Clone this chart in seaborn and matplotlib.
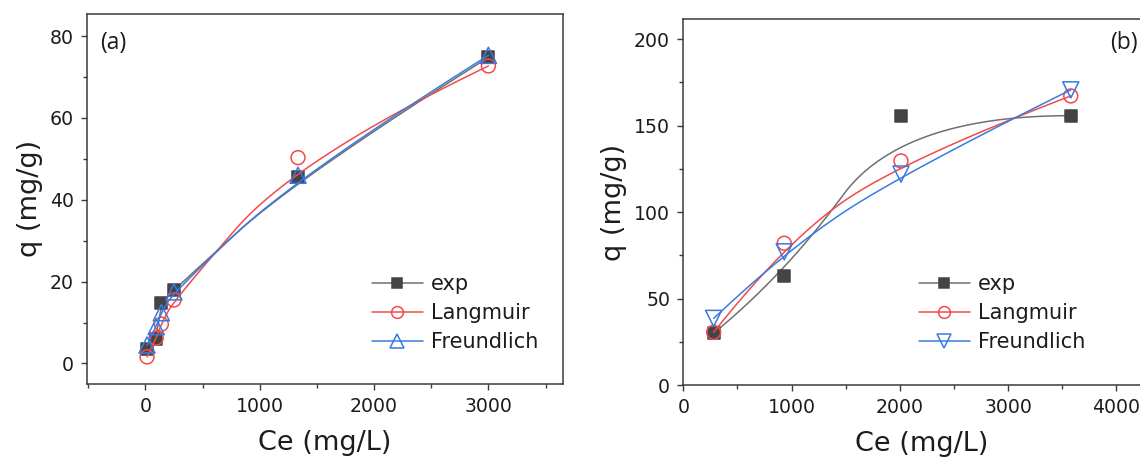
import numpy as np
import pandas as pd
import matplotlib
matplotlib.use("Agg")
import matplotlib.pyplot as plt
from matplotlib.lines import Line2D
from matplotlib.ticker import MultipleLocator
import seaborn as sns

# ---------------- data ----------------
ce_a = [15, 95, 140, 250, 1335, 3000]
exp_a = [3.5, 6.0, 14.8, 18.0, 45.5, 74.8]
lang_a = [1.6, 6.2, 9.6, 15.5, 50.3, 72.7]
freu_a = [4.5, 9.0, 12.4, 17.5, 46.0, 75.3]

ce_b = [280, 932, 2010, 3578]
exp_b = [30.0, 63.3, 155.8, 155.8]
lang_b = [30.5, 82.0, 129.6, 167.2]
freu_b = [38.5, 77.0, 122.0, 170.7]

series_names = ["exp", "Langmuir", "Freundlich"]
panel_labels = ["(a)", "(b)"]
x_label = "Ce (mg/L)"
y_label = "q (mg/g)"

# ---------------- style ----------------
sns.set_theme(style="ticks")
plt.rcParams["font.family"] = ["DejaVu Sans"]

GREY_M = "#444444"
GREY_L = "#707070"
RED = "#f24a4a"
BLUE = "#3a7ae0"
TXT = "#1c1c1c"


def qbspline(x, y, n=80):
    """Clamped quadratic B-spline through control points (x, y)."""
    P = np.column_stack([x, y]).astype(float)
    m = len(P)
    if m < 3:
        return P[:, 0], P[:, 1]
    mids = [(P[i] + P[i + 1]) / 2 for i in range(1, m - 2)]
    starts = [P[0]] + mids
    ends = mids + [P[-1]]
    ctrls = P[1:m - 1]
    t = np.linspace(0, 1, n)[:, None]
    segs = [(1 - t) ** 2 * s + 2 * t * (1 - t) * c + t ** 2 * e
            for s, c, e in zip(starts, ctrls, ends)]
    C = np.vstack(segs)
    return C[:, 0], C[:, 1]


fig = plt.figure(figsize=(11.4, 4.61), dpi=100)
W, H = 1140, 461
ax_a = fig.add_axes([87 / W, 1 - 383.5 / H, (563.3 - 87) / W, (383.5 - 14) / H])
ax_b = fig.add_axes([683.3 / W, 1 - 385 / H, 476.5 / W, (385 - 19) / H])

specs_a = [
    (exp_a, GREY_L, GREY_M, GREY_M, "s", 80),
    (lang_a, RED, "none", RED, "o", 100),
    (freu_a, BLUE, "none", BLUE, "^", 135),
]
specs_b = [
    (exp_b, GREY_L, GREY_M, GREY_M, "s", 80),
    (lang_b, RED, "none", RED, "o", 100),
    (freu_b, BLUE, "none", BLUE, "v", 135),
]


def draw(ax, ce, specs):
    for k, (vals, lc, fc, ec, mk, s) in enumerate(specs):
        cx, cy = qbspline(ce, vals)
        df_line = pd.DataFrame({"x": cx, "y": cy})
        sns.lineplot(data=df_line, x="x", y="y", sort=False, estimator=None,
                     color=lc, lw=1.1, ax=ax, legend=False, zorder=2 + 2 * k)
        df_pts = pd.DataFrame({"x": ce, "y": vals})
        sns.scatterplot(data=df_pts, x="x", y="y", marker=mk, s=s,
                        facecolor=fc, edgecolor=ec, linewidth=1.1,
                        ax=ax, legend=False, zorder=3 + 2 * k)


draw(ax_a, ce_a, specs_a)
draw(ax_b, ce_b, specs_b)

ax_a.set_xlim(-510, 3655)
ax_a.set_ylim(-4.9, 85.4)
ax_a.xaxis.set_major_locator(MultipleLocator(1000))
ax_a.xaxis.set_minor_locator(MultipleLocator(500))
ax_a.yaxis.set_major_locator(MultipleLocator(20))
ax_a.yaxis.set_minor_locator(MultipleLocator(10))

ax_b.set_xlim(0, 4400)
ax_b.set_ylim(0, 211.7)
ax_b.xaxis.set_major_locator(MultipleLocator(1000))
ax_b.xaxis.set_minor_locator(MultipleLocator(500))
ax_b.yaxis.set_major_locator(MultipleLocator(50))
ax_b.yaxis.set_minor_locator(MultipleLocator(25))

for ax in (ax_a, ax_b):
    for sp in ax.spines.values():
        sp.set_visible(True)
        sp.set_color("#3a3a3a")
        sp.set_linewidth(1.1)
    ax.tick_params(which="major", direction="out", length=4.5, width=1.0,
                   color="#3a3a3a", labelsize=13.6, labelcolor=TXT, pad=5)
    ax.tick_params(which="minor", direction="out", length=3, width=1.0,
                   color="#3a3a3a")
    ax.tick_params(top=False, right=False, which="both")
    ax.set_xlabel(x_label, fontsize=19.5, color=TXT, labelpad=10)
    ax.set_ylabel(y_label, fontsize=19.5, color=TXT, labelpad=5)

# panel labels
fig.text(100 / W, 1 - 43 / H, panel_labels[0], family=["Open Sans", "DejaVu Sans"],
         fontsize=16.5, color=TXT, ha="left", va="center")
fig.text(1110 / W, 1 - 43.3 / H, panel_labels[1], family=["Open Sans", "DejaVu Sans"],
         fontsize=16.5, color=TXT, ha="left", va="center")

# legends
def handles(specs):
    hs = []
    for vals, lc, fc, ec, mk, s in specs:
        hs.append(Line2D([], [], color=lc, lw=1.1, marker=mk,
                         markersize=np.sqrt(s) * 0.85, markerfacecolor=fc,
                         markeredgecolor=ec, markeredgewidth=1.1))
    return hs


for ax, specs, x0 in ((ax_a, specs_a, 371.7), (ax_b, specs_b, 918.5)):
    leg = ax.legend(handles(specs), series_names, loc="upper left",
                    bbox_to_anchor=(x0 / W, 1 - 274.5 / H),
                    bbox_transform=fig.transFigure, frameon=False,
                    fontsize=15, borderpad=0, borderaxespad=0,
                    handlelength=2.45, handletextpad=0.4, labelspacing=0.42,
                    numpoints=1)
    for t in leg.get_texts():
        t.set_color(TXT)

fig.savefig("out.png", dpi=100)
